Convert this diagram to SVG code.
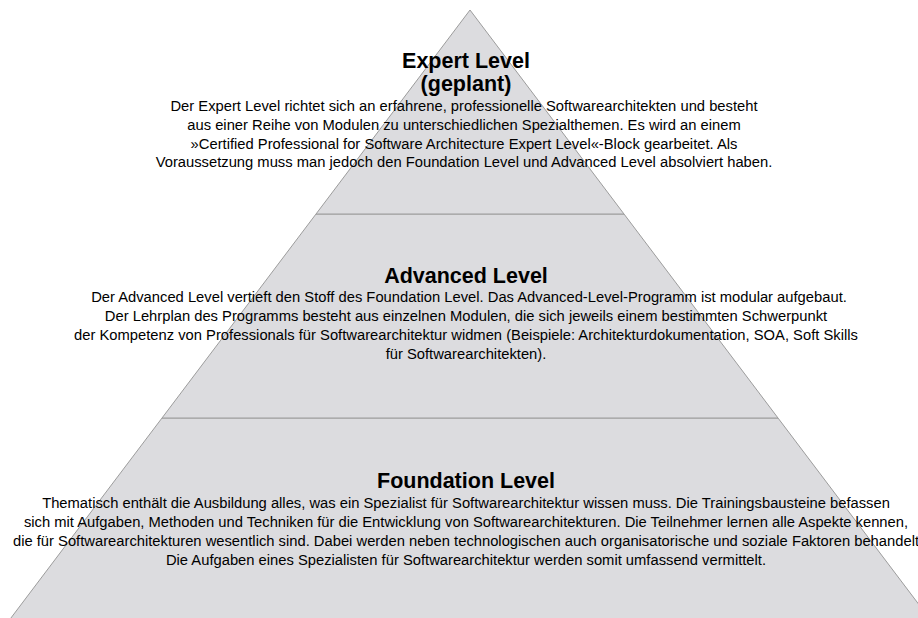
<svg xmlns="http://www.w3.org/2000/svg" width="918" height="618" viewBox="0 0 918 618">
  <style>
    .tier { fill: #dcdcdf; stroke: #9c9c9c; stroke-width: 1; }
    .title { font-family: "Liberation Sans", Arial, sans-serif; font-size: 21.5px; font-weight: bold; fill: #000; text-anchor: middle; }
    .body { font-family: "Liberation Sans", Arial, sans-serif; font-size: 14.75px; fill: #000; text-anchor: middle; }
  </style>
  <rect width="918" height="618" fill="#ffffff"/>
  <g id="foundation-level">
    <polygon class="tier" points="162,418 778,418 945.7,640 -5.7,640"/>
    <text class="title" x="466" y="488">Foundation Level</text>
    <text class="body" x="466" y="508">Thematisch enthält die Ausbildung alles, was ein Spezialist für Softwarearchitektur wissen muss. Die Trainingsbausteine befassen</text>
    <text class="body" x="466" y="527">sich mit Aufgaben, Methoden und Techniken für die Entwicklung von Softwarearchitekturen. Die Teilnehmer lernen alle Aspekte kennen,</text>
    <text class="body" x="466" y="546">die für Softwarearchitekturen wesentlich sind. Dabei werden neben technologischen auch organisatorische und soziale Faktoren behandelt</text>
    <text class="body" x="466" y="565">Die Aufgaben eines Spezialisten für Softwarearchitektur werden somit umfassend vermittelt.</text>
  </g>
  <g id="advanced-level">
    <polygon class="tier" points="316,214 624,214 778,418 162,418"/>
    <text class="title" x="466" y="283">Advanced Level</text>
    <text class="body" x="469" y="302">Der Advanced Level vertieft den Stoff des Foundation Level. Das Advanced-Level-Programm ist modular aufgebaut.</text>
    <text class="body" x="466" y="321">Der Lehrplan des Programms besteht aus einzelnen Modulen, die sich jeweils einem bestimmten Schwerpunkt</text>
    <text class="body" x="466" y="340">der Kompetenz von Professionals für Softwarearchitektur widmen (Beispiele: Architekturdokumentation, SOA, Soft Skills</text>
    <text class="body" x="466" y="359">für Softwarearchitekten).</text>
  </g>
  <g id="expert-level">
    <polygon class="tier" points="470,10 624,214 316,214"/>
    <text class="title" x="466" y="68">Expert Level</text>
    <text class="title" x="466" y="91">(geplant)</text>
    <text class="body" x="464" y="110.5">Der Expert Level richtet sich an erfahrene, professionelle Softwarearchitekten und besteht</text>
    <text class="body" x="464" y="129.5">aus einer Reihe von Modulen zu unterschiedlichen Spezialthemen. Es wird an einem</text>
    <text class="body" x="464" y="148.5">»Certified Professional for Software Architecture Expert Level«-Block gearbeitet. Als</text>
    <text class="body" x="464" y="167">Voraussetzung muss man jedoch den Foundation Level und Advanced Level absolviert haben.</text>
  </g>
  <g id="connectors"/>
</svg>
